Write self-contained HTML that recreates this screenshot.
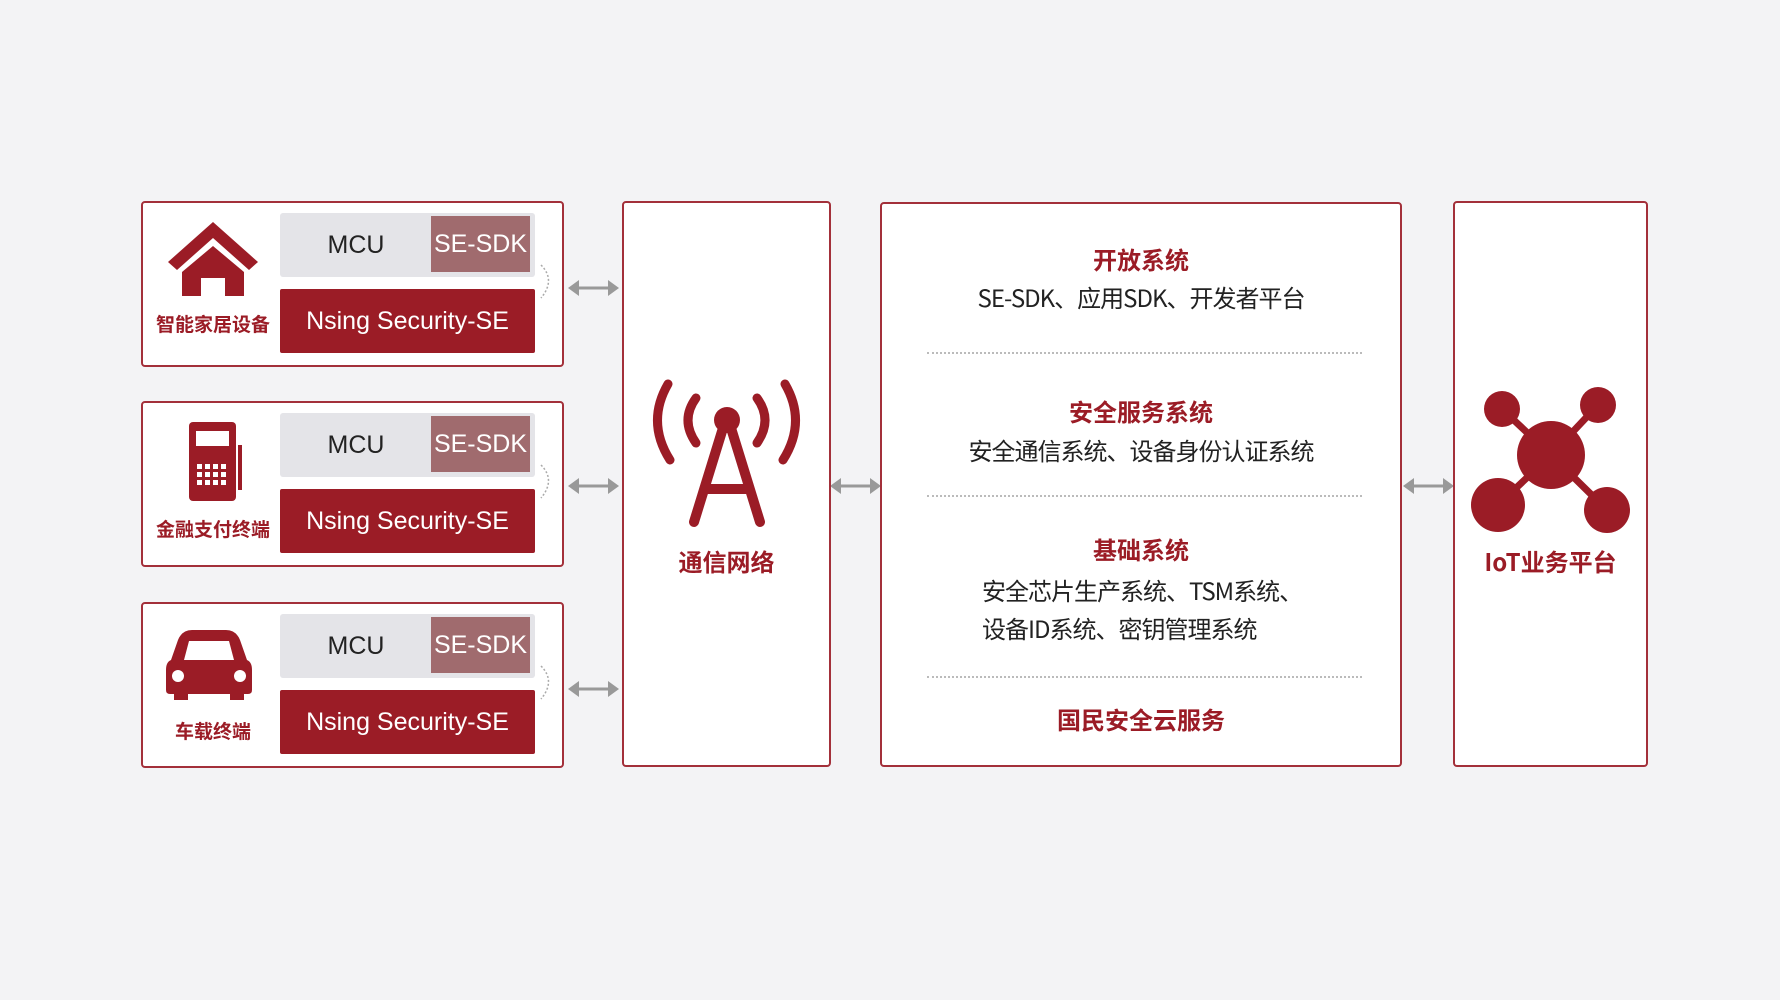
<!DOCTYPE html>
<html><head><meta charset="utf-8"><style>
body{margin:0;width:1780px;height:1000px;background:#f3f3f5;position:relative;overflow:hidden;font-family:"Liberation Sans","Noto Sans CJK SC",sans-serif}
.box{position:absolute;background:#fff;border:2px solid #a3303a;border-radius:4px;box-sizing:border-box}
.abs{position:absolute}
.mcu{position:absolute;left:280px;width:255px;height:64px;background:#e4e4e8;border-radius:3px}
.mcu span{position:absolute;left:0;width:152px;top:0;line-height:64px;text-align:center;font-size:25px;color:#222}
.sdk{position:absolute;left:151px;top:3px;width:99px;height:56px;background:#a06b6e;color:#fff;font-size:25px;line-height:56px;text-align:center}
.se{position:absolute;left:280px;width:255px;height:64px;background:#9b1c26;color:#fff;font-size:25px;line-height:64px;text-align:center;border-radius:2px}
.lbl{position:absolute;color:#9b1c26;font-weight:bold;text-align:center;font-family:"Noto Sans CJK SC",sans-serif}
.t{position:absolute;left:880px;width:522px;text-align:center;font-family:"Noto Sans CJK SC",sans-serif}
.h{color:#9b1c26;font-weight:bold;font-size:24px}
.n{color:#222;font-size:24px;letter-spacing:-1px}
.div{position:absolute;left:927px;width:435px;border-top:2px dotted #bbb}
</style></head><body>
<svg width="0" height="0" style="position:absolute"><defs>
<g id="arr"><line x1="6" y1="0" x2="45" y2="0" stroke="#999" stroke-width="3"/><polygon points="0,0 11,-8 11,8" fill="#999"/><polygon points="51,0 40,-8 40,8" fill="#999"/></g>
</defs></svg>

<div class="box" style="left:141px;top:201px;width:423px;height:166px"></div>
<div class="box" style="left:141px;top:401px;width:423px;height:166px"></div>
<div class="box" style="left:141px;top:602px;width:423px;height:166px"></div>

<div class="mcu" style="top:213px"><span>MCU</span><div class="sdk">SE-SDK</div></div>
<div class="se" style="top:289px">Nsing Security-SE</div>
<div class="mcu" style="top:413px"><span>MCU</span><div class="sdk">SE-SDK</div></div>
<div class="se" style="top:489px">Nsing Security-SE</div>
<div class="mcu" style="top:614px"><span>MCU</span><div class="sdk">SE-SDK</div></div>
<div class="se" style="top:690px">Nsing Security-SE</div>

<div class="lbl" style="left:148px;width:130px;top:310px;font-size:19px">智能家居设备</div>
<div class="lbl" style="left:148px;width:130px;top:515px;font-size:19px">金融支付终端</div>
<div class="lbl" style="left:148px;width:130px;top:717px;font-size:19px">车载终端</div>

<svg class="abs" style="left:0;top:0" width="1780" height="1000">
<g fill="#9b1c26">
<polygon points="213,222 258,262 249,270 213,238 177,270 168,262"/>
<polygon points="213,246 244,272 244,296 225,296 225,278 201,278 201,296 182,296 182,272"/>
</g>
<g fill="#9b1c26">
<rect x="189" y="422" width="47" height="79" rx="4"/>
<rect x="196" y="431" width="33" height="15" fill="#fff"/>
<g fill="#fff">
<rect x="197" y="464" width="5" height="5"/><rect x="205" y="464" width="5" height="5"/><rect x="213" y="464" width="5" height="5"/><rect x="221" y="464" width="5" height="5"/>
<rect x="197" y="472" width="5" height="5"/><rect x="205" y="472" width="5" height="5"/><rect x="213" y="472" width="5" height="5"/><rect x="221" y="472" width="5" height="5"/>
<rect x="197" y="480" width="5" height="5"/><rect x="205" y="480" width="5" height="5"/><rect x="213" y="480" width="5" height="5"/><rect x="221" y="480" width="5" height="5"/>
</g>
<rect x="238" y="445" width="4" height="45"/>
</g>
<g fill="#9b1c26">
<path d="M178,640 Q182,630 192,630 L226,630 Q236,630 240,640 L247,660 Q252,662 252,670 L252,690 Q252,694 248,694 L244,694 L244,700 L230,700 L230,694 L188,694 L188,700 L174,700 L174,694 L170,694 Q166,694 166,690 L166,670 Q166,662 171,660 Z"/>
<path d="M184,660 L189,641 L229,641 L234,660 Z" fill="#fff"/>
<circle cx="178" cy="676" r="6" fill="#fff"/><circle cx="240" cy="676" r="6" fill="#fff"/>
</g>
<g fill="none" stroke="#aaa" stroke-width="1.5" stroke-dasharray="2 2">
<path d="M541,265 Q556,280 541,298"/><path d="M541,465 Q556,480 541,498"/><path d="M541,666 Q556,681 541,699"/>
</g>
<use href="#arr" x="568" y="288"/>
<use href="#arr" x="568" y="486"/>
<use href="#arr" x="568" y="689"/>
<use href="#arr" x="830" y="486"/>
<use href="#arr" x="1403" y="486"/>
</svg>

<div class="box" style="left:622px;top:201px;width:209px;height:566px"></div>
<svg class="abs" style="left:622px;top:360px" width="209" height="180">
<g fill="none" stroke="#9b1c26" stroke-width="9" stroke-linecap="round">
<path d="M74,38 Q58,60 74,83"/><path d="M135,38 Q151,60 135,83"/>
<path d="M46,24 Q24,62 48,100"/><path d="M163,24 Q185,62 161,100"/>
</g>
<circle cx="105" cy="60" r="13" fill="#9b1c26"/>
<g stroke="#9b1c26" stroke-width="10" stroke-linecap="round">
<line x1="101" y1="68" x2="72" y2="162"/><line x1="109" y1="68" x2="138" y2="162"/>
</g>
<rect x="82" y="124" width="46" height="10" fill="#9b1c26"/>
</svg>
<div class="lbl" style="left:622px;width:209px;top:543px;font-size:24px">通信网络</div>

<div class="box" style="left:880px;top:202px;width:522px;height:565px"></div>
<div class="t h" style="top:241px">开放系统</div>
<div class="t n" style="top:279px">SE-SDK、应用SDK、开发者平台</div>
<div class="div" style="top:352px"></div>
<div class="t h" style="top:393px">安全服务系统</div>
<div class="t n" style="top:432px">安全通信系统、设备身份认证系统</div>
<div class="div" style="top:495px"></div>
<div class="t h" style="top:531px">基础系统</div>
<div class="t n" style="top:572px;left:982px;text-align:left">安全芯片生产系统、TSM系统、</div>
<div class="t n" style="top:610px;left:982px;text-align:left">设备ID系统、密钥管理系统</div>
<div class="div" style="top:676px"></div>
<div class="t h" style="top:701px">国民安全云服务</div>

<div class="box" style="left:1453px;top:201px;width:195px;height:566px"></div>
<svg class="abs" style="left:1453px;top:370px" width="195" height="170">
<g stroke="#9b1c26" stroke-width="7">
<line x1="98" y1="85" x2="49" y2="39"/><line x1="98" y1="85" x2="145" y2="35"/>
<line x1="98" y1="85" x2="45" y2="135"/><line x1="98" y1="85" x2="154" y2="140"/>
</g>
<g fill="#9b1c26">
<circle cx="98" cy="85" r="34"/><circle cx="49" cy="39" r="18"/><circle cx="145" cy="35" r="18"/>
<circle cx="45" cy="135" r="27"/><circle cx="154" cy="140" r="23"/>
</g>
</svg>
<div class="lbl" style="left:1453px;width:195px;top:543px;font-size:24px">IoT业务平台</div>
</body></html>
